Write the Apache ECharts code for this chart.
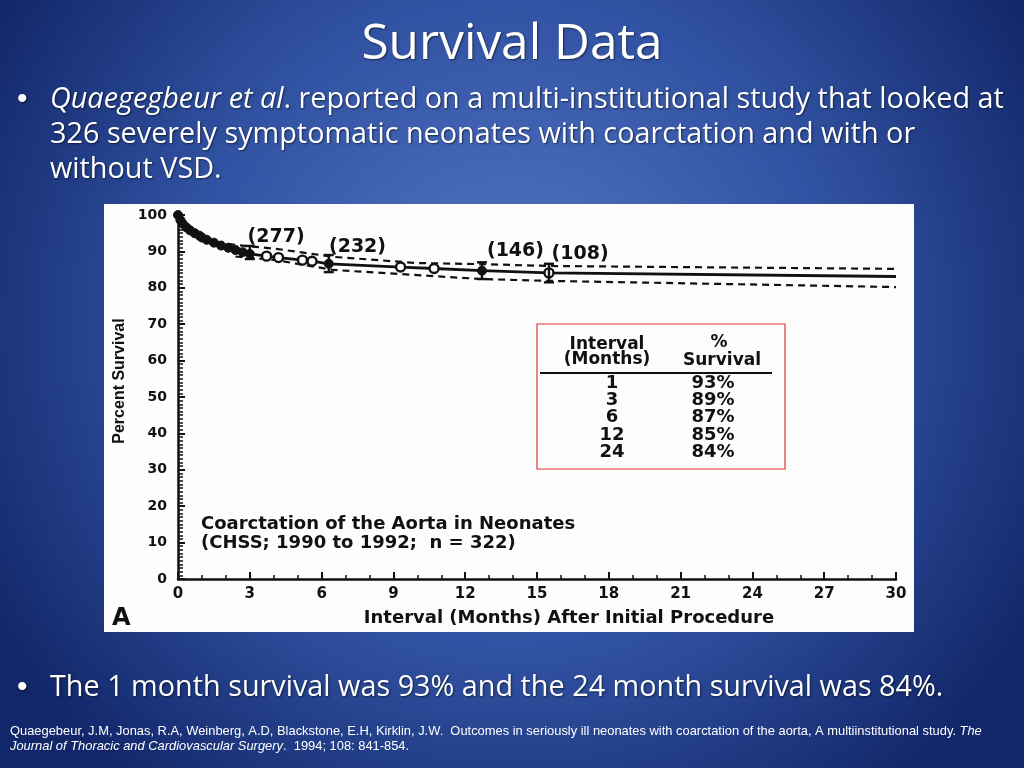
<!DOCTYPE html>
<html>
<head>
<meta charset="utf-8">
<script src="https://cdn.jsdelivr.net/npm/echarts@6/dist/echarts.min.js"></script>
<style>
html,body{margin:0;padding:0;background:#13296a;}
#c{width:1024px;height:768px;}
</style>
</head>
<body>
<div id="c"></div>
<script>
// ---- data ----
const survMonths = [0, 0.1, 0.2, 0.35, 0.5, 0.7, 0.9, 1.0, 1.2, 1.5, 1.8, 2.1, 2.4, 2.7, 3.0, 3.7, 4.2, 5.2, 5.6, 6.3, 9.3, 10.7, 12.7, 15.5, 30];
const survPct    = [100, 98.6, 97.6, 96.6, 95.8, 95.0, 94.3, 93.8, 93.2, 92.4, 91.6, 91.0, 90.4, 89.8, 89.3, 88.7, 88.3, 87.6, 87.3, 86.6, 85.7, 85.3, 84.7, 84.1, 83.1];
const markerKind = ['f','f','f','f','f','f','f','f','f','f','f','f','f','f','f','o','o','o','o','f','o','o','f','o','n'];

const upperMonths = [1.6, 2.5, 4.1, 6.5, 10, 12.7, 15.5, 30];
const upperPct    = [92.6, 91.7, 90.7, 88.5, 86.8, 86.5, 86.0, 85.2];
const lowerMonths = [2.4, 4.1, 6.5, 10, 12.7, 15.5, 30];
const lowerPct    = [88.6, 87.6, 84.9, 83.5, 82.4, 81.9, 80.2];

const errMonths = [3.0, 6.3, 12.7, 15.5];
const errHigh   = [91.5, 89.0, 87.0, 86.6];
const errLow    = [87.9, 84.3, 82.4, 81.5];

const riskMonths = [4.1, 7.5, 14.1, 16.8];
const riskPct    = [94.0, 91.2, 90.2, 89.4];
const riskText   = ['(277)', '(232)', '(146)', '(108)'];

const tableIntervals = ['1', '3', '6', '12', '24'];
const tableSurvival  = ['93%', '89%', '87%', '85%', '84%'];

const xTicks = [0, 3, 6, 9, 12, 15, 18, 21, 24, 27, 30];
const yTicks = [0, 10, 20, 30, 40, 50, 60, 70, 80, 90, 100];

// ---- chart ----
const chart = echarts.init(document.getElementById('c'));
const shadow = {textShadowColor:'rgba(0,0,0,0.55)', textShadowBlur:2, textShadowOffsetX:1, textShadowOffsetY:1};
const slideFont = '"Open Sans"';
const BS = 28.8;
const FN = 12.9;

const graphics = [
  {type:'rect', z:-10, shape:{x:104, y:204, width:810, height:428}, style:{fill:'#fdfdfb'}},
  // title
  {type:'text', x:512, y:45, style:Object.assign({text:'Survival Data', fill:'#fff', font:'49.5px ' + slideFont, align:'center', verticalAlign:'middle'}, shadow)},
  // bullet 1
  {type:'text', x:17, y:100, style:Object.assign({text:'•', fill:'#fff', font:'30px "Liberation Sans"', verticalAlign:'middle'}, shadow)},
  {type:'text', x:50, y:82, style:Object.assign({
     text:'{i|Quaegegbeur et al}{n|. reported on a multi-institutional study that looked at}\n{n|326 severely symptomatic neonates with coarctation and with or}\n{n|without VSD.}',
     fill:'#fff', font:BS + 'px ' + slideFont, lineHeight:35,
     rich:{i:{fontStyle:'italic', fontSize:BS, fontFamily:slideFont, fill:'#fff', lineHeight:35},
           n:{fontSize:BS, fontFamily:slideFont, fill:'#fff', lineHeight:35}}}, shadow)},
  // bullet 2
  {type:'text', x:17, y:688, style:Object.assign({text:'•', fill:'#fff', font:'30px "Liberation Sans"', verticalAlign:'middle'}, shadow)},
  {type:'text', x:50, y:688, style:Object.assign({text:'The 1 month survival was 93% and the 24 month survival was 84%.', fill:'#fff', font:BS + 'px ' + slideFont, verticalAlign:'middle'}, shadow)},
  // footnote
  {type:'text', x:10, y:724, style:{
     text:'{n|Quaegebeur, J.M, Jonas, R.A, Weinberg, A.D, Blackstone, E.H, Kirklin, J.W.  Outcomes in seriously ill neonates with coarctation of the aorta, A multiinstitutional study. }{i|The}\n{i|Journal of Thoracic and Cardiovascular Surgery}{n|.  1994; 108: 841-854.}',
     fill:'#fff', font:FN + 'px "Liberation Sans"', lineHeight:15,
     rich:{n:{fontSize:FN, fontFamily:'"Liberation Sans"', fill:'#fff', lineHeight:15},
           i:{fontSize:FN, fontStyle:'italic', fontFamily:'"Liberation Sans"', fill:'#fff', lineHeight:15}}}},
  // axis names & annotations
  {type:'text', x:120, y:381, rotation:Math.PI/2, style:{text:'Percent Survival', fill:'#111', font:'bold 16px "Liberation Sans"', align:'center', verticalAlign:'middle'}},
  {type:'text', x:569, y:618, style:{text:'Interval (Months) After Initial Procedure', fill:'#111', font:'bold 18px "DejaVu Sans"', align:'center', verticalAlign:'middle'}},
  {type:'text', x:112, y:619, style:{text:'A', fill:'#111', font:'bold 24px "DejaVu Sans"', verticalAlign:'middle'}},
  {type:'text', x:201, y:524, style:{text:'Coarctation of the Aorta in Neonates', fill:'#111', font:'bold 18px "DejaVu Sans"', verticalAlign:'middle'}},
  {type:'text', x:201, y:543, style:{text:'(CHSS; 1990 to 1992;  n = 322)', fill:'#111', font:'bold 18px "DejaVu Sans"', verticalAlign:'middle'}},
  // table
  {type:'rect', shape:{x:537, y:324, width:248, height:145}, style:{fill:'#fdfdfb', stroke:'#e0343a', lineWidth:1.2}},
  {type:'text', x:607, y:345, style:{text:'Interval', fill:'#111', font:'bold 17px "DejaVu Sans"', align:'center', verticalAlign:'middle'}},
  {type:'text', x:607, y:360, style:{text:'(Months)', fill:'#111', font:'bold 17px "DejaVu Sans"', align:'center', verticalAlign:'middle'}},
  {type:'text', x:719, y:343, style:{text:'%', fill:'#111', font:'bold 17px "DejaVu Sans"', align:'center', verticalAlign:'middle'}},
  {type:'text', x:722, y:361, style:{text:'Survival', fill:'#111', font:'bold 17px "DejaVu Sans"', align:'center', verticalAlign:'middle'}},
  {type:'line', shape:{x1:540, y1:373, x2:772, y2:373}, style:{stroke:'#111', lineWidth:2}}
];
tableIntervals.forEach((v, i) => {
  const y = 383 + i * 17.3;
  graphics.push({type:'text', x:612, y:y, style:{text:v, fill:'#111', font:'bold 18px "DejaVu Sans"', align:'center', verticalAlign:'middle'}});
  graphics.push({type:'text', x:713, y:y, style:{text:tableSurvival[i], fill:'#111', font:'bold 18px "DejaVu Sans"', align:'center', verticalAlign:'middle'}});
});

const curveData = survMonths.map((m, i) => {
  const k = markerKind[i];
  const item = {value:[m, survPct[i]]};
  if (k === 'f') { item.symbol = 'circle'; item.symbolSize = 9; item.itemStyle = {color:'#111', borderColor:'#111'}; }
  else if (k === 'o') { item.symbol = 'circle'; item.symbolSize = 9; item.itemStyle = {color:'#fdfdfb', borderColor:'#111', borderWidth:2.4}; }
  else { item.symbol = 'none'; }
  return item;
});

const option = {
  backgroundColor: {type:'radial', x:0.5, y:0.42, r:0.78, colorStops:[{offset:0, color:'#5577c6'}, {offset:0.55, color:'#3152a2'}, {offset:1, color:'#12276a'}]},
  animation:false,
  graphic: graphics,
  grid:{left:178, right:128, top:215, bottom:189, containLabel:false},
  xAxis:{type:'value', min:0, max:30, interval:3,
    axisLine:{lineStyle:{color:'#111', width:2.5}},
    axisTick:{inside:true, length:7, lineStyle:{color:'#111', width:2}},
    minorTick:{show:true, splitNumber:3, length:4, lineStyle:{color:'#111', width:1.5}},
    splitLine:{show:false},
    axisLabel:{color:'#111', fontFamily:'DejaVu Sans', fontWeight:'bold', fontSize:15, margin:8,
      formatter:v => xTicks.indexOf(v) >= 0 ? String(v) : ''}},
  yAxis:{type:'value', min:0, max:100, interval:10,
    axisLine:{lineStyle:{color:'#111', width:2.5}},
    axisTick:{inside:true, length:7, lineStyle:{color:'#111', width:2}},
    minorTick:{show:true, splitNumber:10, length:5, lineStyle:{color:'#111', width:1.5}},
    splitLine:{show:false},
    axisLabel:{color:'#111', fontFamily:'DejaVu Sans', fontWeight:'bold', fontSize:14, margin:11,
      formatter:v => yTicks.indexOf(v) >= 0 ? String(v) : ''}},
  series:[
    {type:'line', data:upperMonths.map((m,i)=>[m, upperPct[i]]), symbol:'none', z:2,
      lineStyle:{color:'#111', width:2.2, type:[7,5]}},
    {type:'line', data:lowerMonths.map((m,i)=>[m, lowerPct[i]]), symbol:'none', z:2,
      lineStyle:{color:'#111', width:2.2, type:[7,5]}},
    {type:'line', data:curveData, showSymbol:true, z:3,
      lineStyle:{color:'#111', width:2.8}},
    {type:'custom', z:4, data:errMonths.map((m,i)=>[m, errLow[i], errHigh[i]]),
      renderItem:function(params, api){
        const x = api.value(0);
        const pH = api.coord([x, api.value(2)]);
        const pL = api.coord([x, api.value(1)]);
        const st = {stroke:'#111', lineWidth:2.4};
        return {type:'group', children:[
          {type:'line', shape:{x1:pH[0], y1:pH[1], x2:pL[0], y2:pL[1]}, style:st},
          {type:'line', shape:{x1:pH[0]-5, y1:pH[1], x2:pH[0]+5, y2:pH[1]}, style:st},
          {type:'line', shape:{x1:pL[0]-5, y1:pL[1], x2:pL[0]+5, y2:pL[1]}, style:st}
        ]};
      }},
    {type:'custom', z:5, data:riskMonths.map((m,i)=>[m, riskPct[i], i]),
      renderItem:function(params, api){
        const p = api.coord([api.value(0), api.value(1)]);
        return {type:'text', x:p[0], y:p[1], style:{text:riskText[api.value(2)], fill:'#111',
          font:'bold 19px "DejaVu Sans"', align:'center', verticalAlign:'middle'}};
      }}
  ]
};
chart.setOption(option);
</script>
</body>
</html>
